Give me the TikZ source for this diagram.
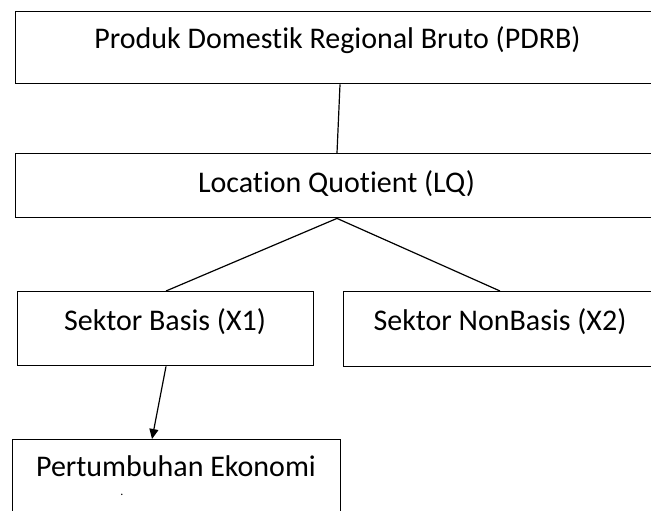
\documentclass[tikz,border=0pt]{standalone}
\usepackage{fontspec}
\setmainfont[Ligatures=NoCommon]{Carlito}
\usetikzlibrary{arrows.meta}
\begin{document}
\begin{tikzpicture}[x=1pt,y=-1pt,
  box/.style={draw=black,line width=1.4pt,fill=white,inner sep=0pt,anchor=north west},
  lbl/.style={anchor=base,inner sep=0pt,font=\fontsize{30}{36}\selectfont},
  conn/.style={line width=1.2pt,draw=black},
  arr/.style={conn,-{Triangle[length=10pt,width=9pt]}}]
\useasboundingbox (0,0) rectangle (651,511);
\clip (0,0) rectangle (651,511);
\node[box,minimum width=645pt,minimum height=72pt] (pdrb) at (15,11) {};
\node[box,minimum width=645pt,minimum height=64pt] (lq) at (15,153) {};
\node[box,minimum width=296pt,minimum height=74pt] (basis) at (17,291) {};
\node[box,minimum width=314pt,minimum height=75pt] (nonbasis) at (343,291) {};
\node[box,minimum width=328pt,minimum height=90pt] (growth) at (12,439) {};
\node[lbl] (tpdrb) at (337.5,49) {Produk Domestik Regional Bruto (PDRB)};
\node[lbl] (tlq) at (336.5,192) {Location Quotient (LQ)};
\node[lbl] (tbasis) at (165,330) {Sektor Basis (X1)};
\node[lbl] (tnonbasis) at (500,330) {Sektor NonBasis (X2)};
\node[lbl] (tgrowth) at (176,476) {Pertumbuhan Ekonomi};
\node[anchor=base,inner sep=0pt,font=\fontsize{12}{14}\selectfont] (dot) at (122,495) {.};
\coordinate (p1) at (pdrb.south west -| 340,0);
\coordinate (p2) at (lq.north west -| 337,0);
\coordinate (p3) at (lq.south west -| 337,0);
\coordinate (b1) at (basis.north west -| 166,0);
\coordinate (n1) at (nonbasis.north west -| 500,0);
\coordinate (b2) at (basis.south west -| 166,0);
\coordinate (g1) at (growth.north west -| 152,0);
\draw[conn] (p1) -- (p2);
\draw[conn] (b1) -- (p3) -- (n1);
\draw[arr] (b2) -- (g1);
\end{tikzpicture}
\end{document}
